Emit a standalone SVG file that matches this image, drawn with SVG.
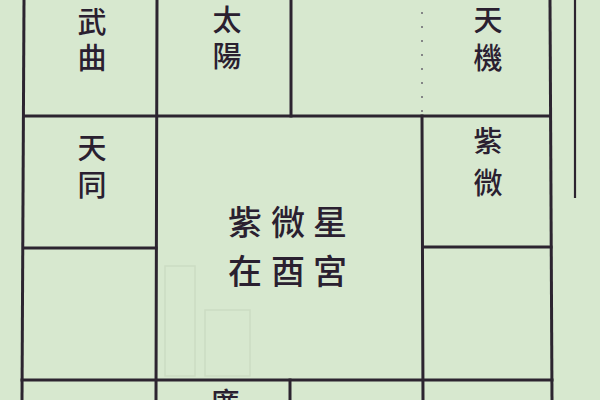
<svg xmlns="http://www.w3.org/2000/svg" width="600" height="400" viewBox="0 0 600 400">
<style>
.ln{stroke:#2c2430;stroke-width:3;fill:none;stroke-linecap:square}
.thin{stroke:#2c2430;stroke-width:2.2;fill:none}
.dot{stroke:#6a6470;stroke-width:1.5;stroke-dasharray:2 12;fill:none}
.ghost{stroke:#ccdcc3;stroke-width:1.5;fill:none}
.t{font-family:"Noto Sans CJK TC","Noto Sans CJK SC",sans-serif;font-size:29px;fill:#2a2030;text-anchor:middle;font-weight:500}
.c{font-size:34px}
</style>
<rect width="600" height="400" fill="#d7e8cf"/>
<g id="ghosts">
<rect class="ghost" x="165" y="266" width="30" height="110"/>
<rect class="ghost" x="205" y="310" width="45" height="66"/>
</g>
<g id="connectors">
<line class="ln" x1="24" y1="0" x2="22" y2="400"/>
<line class="ln" x1="157" y1="0" x2="156" y2="400"/>
<line class="ln" x1="291" y1="0" x2="291" y2="116"/>
<line class="dot" x1="422" y1="12" x2="422" y2="112"/>
<line class="ln" x1="422" y1="116" x2="423" y2="400"/>
<line class="ln" x1="550" y1="0" x2="552" y2="400"/>
<line class="thin" x1="575" y1="0" x2="575" y2="198"/>
<line class="ln" x1="24" y1="116" x2="550" y2="116"/>
<line class="ln" x1="24" y1="248" x2="156" y2="248"/>
<line class="ln" x1="423" y1="247" x2="551" y2="247"/>
<line class="ln" x1="22" y1="380" x2="552" y2="380"/>
<line class="ln" x1="290" y1="380" x2="290" y2="400"/>
</g>
<g id="wuqu"><text class="t" x="92" y="33">武</text><text class="t" x="92" y="69">曲</text></g>
<g id="taiyang"><text class="t" x="227" y="31">太</text><text class="t" x="227" y="67">陽</text></g>
<g id="tianji"><text class="t" x="488" y="31">天</text><text class="t" x="488" y="69">機</text></g>
<g id="tiantong"><text class="t" x="92" y="159">天</text><text class="t" x="92" y="196">同</text></g>
<g id="ziwei"><text class="t" x="488" y="152">紫</text><text class="t" x="488" y="194">微</text></g>
<g id="center">
<text class="t c" x="245" y="235">紫</text><text class="t c" x="288" y="235">微</text><text class="t c" x="330" y="235">星</text>
<text class="t c" x="245" y="284">在</text><text class="t c" x="288" y="284">酉</text><text class="t c" x="330" y="284">宮</text>
</g>
<g id="lianzhen"><text class="t" x="225" y="414">廉</text></g>
</svg>
